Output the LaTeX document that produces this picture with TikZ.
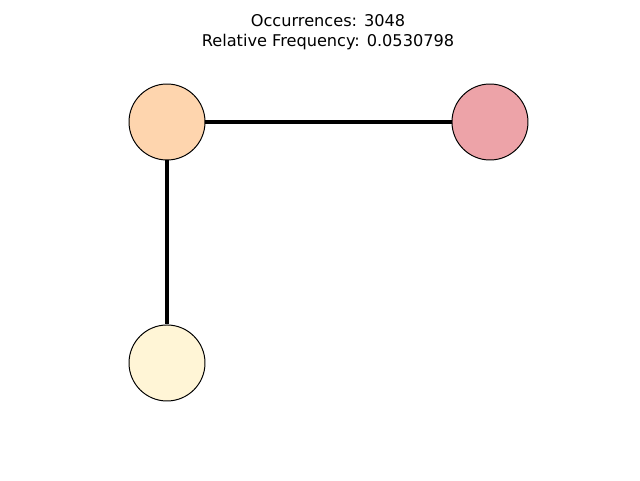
\documentclass[tikz,border=0pt]{standalone}
\usepackage{fontspec}
\setmainfont{DejaVu Sans}
\usetikzlibrary{positioning}

\definecolor{peach}{HTML}{FED5AE}
\definecolor{rose}{HTML}{EDA3A8}
\definecolor{cream}{HTML}{FFF5D6}

\begin{document}
\begin{tikzpicture}[
        every node/.style={font=\fontsize{11.5}{14}\selectfont},
        state/.style={circle, draw, line width=0.7pt, minimum size=19mm, inner sep=0pt},
        edge/.style={line width=2.2pt}
    ]
        \useasboundingbox (0,0) rectangle (16,12);
        \node[align=center] (title) at (8.2,11.2) {Occurrences: 3048\\Relative Frequency: 0.0530798};

        \node[state, fill=peach] (a) at (4.175,8.95) {};
        \node[state, fill=rose, right=61.5mm of a] (b) {};
        \node[state, fill=cream, below=41mm of a] (c) {};

        \draw[edge] (a)--(b);
        \draw[edge] (a)--(c);
    \end{tikzpicture}
\end{document}
